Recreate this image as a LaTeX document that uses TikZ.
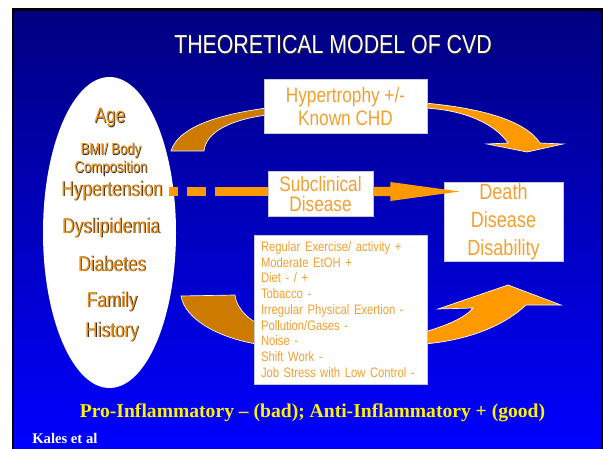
\documentclass[tikz,border=0pt]{standalone}
\usepackage{fontspec}
\setmainfont{Liberation Sans}
\newfontfamily\narrow{Liberation Sans}[FakeStretch=0.82]
\newfontfamily\tnr{Liberation Serif}
\usetikzlibrary{shapes.geometric,calc}
\definecolor{navy}{RGB}{0,0,128}
\definecolor{brightblue}{RGB}{0,0,255}
\definecolor{darkor}{RGB}{204,122,0}
\definecolor{lightor}{RGB}{255,153,0}
\definecolor{txtor}{RGB}{243,160,48}
\definecolor{elltxt}{RGB}{232,146,24}
\definecolor{boxline}{RGB}{200,200,200}
\definecolor{shadowc}{RGB}{60,45,35}
\newcommand\shd[1]{\rlap{\kern0.6pt\raisebox{-0.6pt}{\textcolor{shadowc}{#1}}}#1}
\pgfdeclarelayer{back}
\pgfdeclarelayer{mid}
\pgfsetlayers{back,mid,main}
\begin{document}
\begin{tikzpicture}[x=0.75pt,y=-0.75pt,
  box/.style={draw=boxline, line width=0.6pt, fill=white, inner sep=0pt, text=txtor, align=center,
    font=\narrow\fontsize{15.75}{17.25}\selectfont},
  risktext/.style={text=elltxt, inner sep=0pt, font=\narrow\fontsize{15.75}{18}\selectfont},
  smallrisk/.style={risktext, font=\narrow\fontsize{12}{14}\selectfont},
  darkarrow/.style={fill=darkor, draw=white, line width=0.5pt},
  lightarrow/.style={fill=lightor, draw=white, line width=0.5pt}]
\useasboundingbox (0,0) rectangle (603,449);
\begin{pgfonlayer}{back}
\fill[white] (0,0) rectangle (603,449);
\fill[black] (11.5,8) rectangle (603,449);
\shade[top color=navy,bottom color=brightblue] (14,11.5) rectangle (600.5,449);
\end{pgfonlayer}

% title
\node[text=white, inner sep=0pt, font=\narrow\fontsize{19.5}{22}\selectfont] (title) at (333,45) {\shd{THEORETICAL MODEL OF CVD}};

% risk factor ellipse
\node[ellipse, fill=white, minimum width=99.75pt, minimum height=233.25pt, inner sep=0pt] (risk) at (109.5,232.5) {};
\node[risktext] (age) at (110,118) {\shd{Age}};
\node[smallrisk] (bmi) at (111,151) {\shd{BMI/ Body}};
\node[smallrisk] (comp) at (111,169) {\shd{Composition}};
\node[risktext] (htn) at (112,191) {\shd{Hypertension}};
\node[risktext] (dys) at (111,228) {\shd{Dyslipidemia}};
\node[risktext] (diab) at (112,264) {\shd{Diabetes}};
\node[risktext] (fam) at (112,302) {\shd{Family}};
\node[risktext] (hist) at (112,332) {\shd{History}};

% boxes
\node[box, minimum width=122.25pt, minimum height=40.5pt] (hyp) at (345.5,106) {Hypertrophy +/-\\Known CHD};
\node[box, minimum width=78.75pt, minimum height=33.75pt, font=\narrow\fontsize{15.75}{15}\selectfont] (sub) at (320.5,193.5) {Subclinical\\Disease};
\node[box, minimum width=89.25pt, minimum height=59.25pt, font=\narrow\fontsize{16.5}{21}\selectfont] (death) at (503.5,221.5) {Death\\Disease\\Disability};
\node[box, minimum width=129.75pt, minimum height=111.75pt, align=left, text width=119.25pt,
  font=\narrow\fontsize{10.3}{11.8}\selectfont] (list) at (340.5,309.5)
  {Regular Exercise/ activity +\\Moderate EtOH +\\Diet - / +\\Tobacco -\\Irregular Physical Exertion -\\Pollution/Gases -\\Noise -\\Shift Work -\\Job Stress with Low Control -};

% curved arrows
\begin{pgfonlayer}{mid}
\filldraw[darkarrow] (171,151) .. controls (178,128) and (215,115) .. ($(hyp.west)+(3,2)$)
  -- ($(hyp.west)+(3,9)$) .. controls (230,120) and (206,132) .. (204,151) -- cycle;
\filldraw[lightarrow] ($(hyp.east)+(-3,-3)$) .. controls (480,108) and (525,120) .. (540,143)
  -- (563,144) -- (527,152) -- (487,144) -- (508,143)
  .. controls (495,124) and (465,110) .. ($(hyp.east)+(-3,2)$) -- cycle;
\filldraw[darkarrow] (181,296) -- (235,295) .. controls (236,305) and (244,316) .. ($(list.west)+(3,13.5)$)
  -- ($(list.west)+(3,34.5)$) .. controls (220,338) and (185,320) .. (181,296) -- cycle;
\filldraw[lightarrow] ($(list.east)+(-3,22.5)$) .. controls (445,326) and (465,318) .. (473,308)
  -- (438,309) -- (508,285) -- (561,305) -- (526,305)
  .. controls (505,325) and (470,340) .. ($(list.east)+(-3,34.5)$) -- cycle;
\end{pgfonlayer}

% dashed connector and straight arrow
\coordinate (dstart) at (169,191.5);
\draw[lightor, line width=6.75pt, line cap=butt, dash pattern=on 6.75pt off 6.75pt on 14.25pt off 6.75pt on 300pt]
  (dstart) -- (dstart -| sub.west);
\fill[lightor] ($(dstart -| sub.east)+(0,-4.5)$) -- ($(dstart -| sub.east)+(17,-4.5)$)
  -- ($(dstart -| sub.east)+(17,-9.5)$) -- ($(dstart -| death.west)+(16,0)$)
  -- ($(dstart -| sub.east)+(17,9.5)$) -- ($(dstart -| sub.east)+(17,4.5)$)
  -- ($(dstart -| sub.east)+(0,4.5)$) -- cycle;

% bottom texts
\node[text=yellow, inner sep=0pt, font=\tnr\bfseries\fontsize{14.7}{16}\selectfont] (infl) at (312.5,412.5)
  {Pro-Inflammatory – (bad); Anti-Inflammatory + (good)};
\node[text=white, anchor=west, inner sep=0pt, font=\tnr\bfseries\fontsize{11}{13}\selectfont] (kales) at (32,438.5) {Kales et al};
\end{tikzpicture}
\end{document}
